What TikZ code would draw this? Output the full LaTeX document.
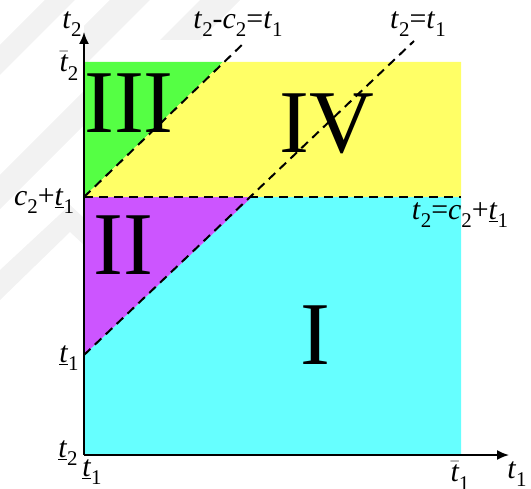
\documentclass[tikz,border=0pt]{standalone}
\usepackage{fontspec}
\setmainfont{Liberation Serif}
\usetikzlibrary{arrows.meta}
\definecolor{cI}{RGB}{102,255,255}
\definecolor{cII}{RGB}{204,85,255}
\definecolor{cIII}{RGB}{85,255,68}
\definecolor{cIV}{RGB}{255,255,102}
\definecolor{wm}{RGB}{242,242,242}
\newcommand\sbs[1]{\raisebox{-0.28em}{\fontsize{21}{21}\selectfont #1}}
\newcommand\tv[1]{\textit{t}\sbs{#1}}
\newcommand\tlow[1]{\underline{\textit{t}}\sbs{#1}}
\newcommand\tbar[1]{$\bar{\mbox{\itshape t}}$\sbs{#1}}
\begin{document}
\begin{tikzpicture}[x=1bp,y=-1bp,
  lab/.style={font=\fontsize{30}{30}\selectfont, inner sep=0pt},
  roman/.style={font=\fontsize{90}{90}\selectfont, inner sep=0pt},
  dline/.style={dash pattern=on 9bp off 6bp, line width=2bp},
  axis/.style={line width=1.8bp, -{Latex[length=12bp,width=10bp]}}]
\useasboundingbox (0,0) rectangle (531,489);
% faint watermark bands
\fill[wm] (0,45) -- (45,0) -- (75,0) -- (0,75) -- cycle;
\fill[wm] (110,0) -- (150,0) -- (84,66) -- (84,26) -- cycle;
\fill[wm] (0,175) -- (84,91) -- (84,125) -- (0,209) -- cycle;
\fill[wm] (0,270) -- (70,205) -- (84,218) -- (84,245) -- (70,232) -- (0,300) -- cycle;
\fill[wm] (200,0) -- (240,0) -- (200,40) -- (160,40) -- cycle;
% key points
\coordinate (O) at (84,455);
\coordinate (BR) at (461,455);
\coordinate (TL) at (84,62);
\coordinate (TR) at (461,62);
\coordinate (M) at (84,197);
\coordinate (MR) at (461,197);
\coordinate (L) at (84,355);
\coordinate (P) at (252,197);
\coordinate (Q) at (223,62);
\coordinate (E1) at (414,41);
\coordinate (E2) at (246,41);
\coordinate (YT) at (84,32);
\coordinate (XT) at (509,455);
% regions
\fill[cI] (O) -- (BR) -- (MR) -- (P) -- (L) -- cycle;
\fill[cII] (L) -- (P) -- (M) -- cycle;
\fill[cIII] (M) -- (Q) -- (TL) -- cycle;
\fill[cIV] (M) -- (MR) -- (TR) -- (Q) -- cycle;
% dashed lines
\draw[dline] (M) -- (MR);
\draw[dline] (L) -- (E1);
\draw[dline] (M) -- (E2);
% axes
\draw[axis] (O) -- (YT);
\draw[axis] (O) -- (XT);
% region numerals
\node[roman] (rIII) at (129,103) {III};
\node[roman] (rIV) at (327,124) {IV};
\node[roman] (rII) at (123,245) {II};
\node[roman] (rI) at (315,335) {I};
% labels
\node[lab] (ly) at (72,24) {\tv{2}};
\node[lab] (lt2b) at (69,66) {\tbar{2}};
\node[lab] (lc) at (44,201) {\textit{c}\sbs{2}+\tlow{1}};
\node[lab] (lt1l) at (69,358) {\tlow{1}};
\node[lab] (lt2l) at (68,453) {\tlow{2}};
\node[lab] (lt1o) at (92,472) {\tlow{1}};
\node[lab] (lt1b) at (460,476) {\tbar{1}};
\node[lab] (lx) at (517,474) {\tv{1}};
\node[lab] (lA) at (238,24) {\tv{2}-\textit{c}\sbs{2}=\tv{1}};
\node[lab] (lB) at (418,24) {\tv{2}=\tv{1}};
\node[lab] (lC) at (460,215) {\tv{2}=\textit{c}\sbs{2}+\tlow{1}};
\end{tikzpicture}
\end{document}
